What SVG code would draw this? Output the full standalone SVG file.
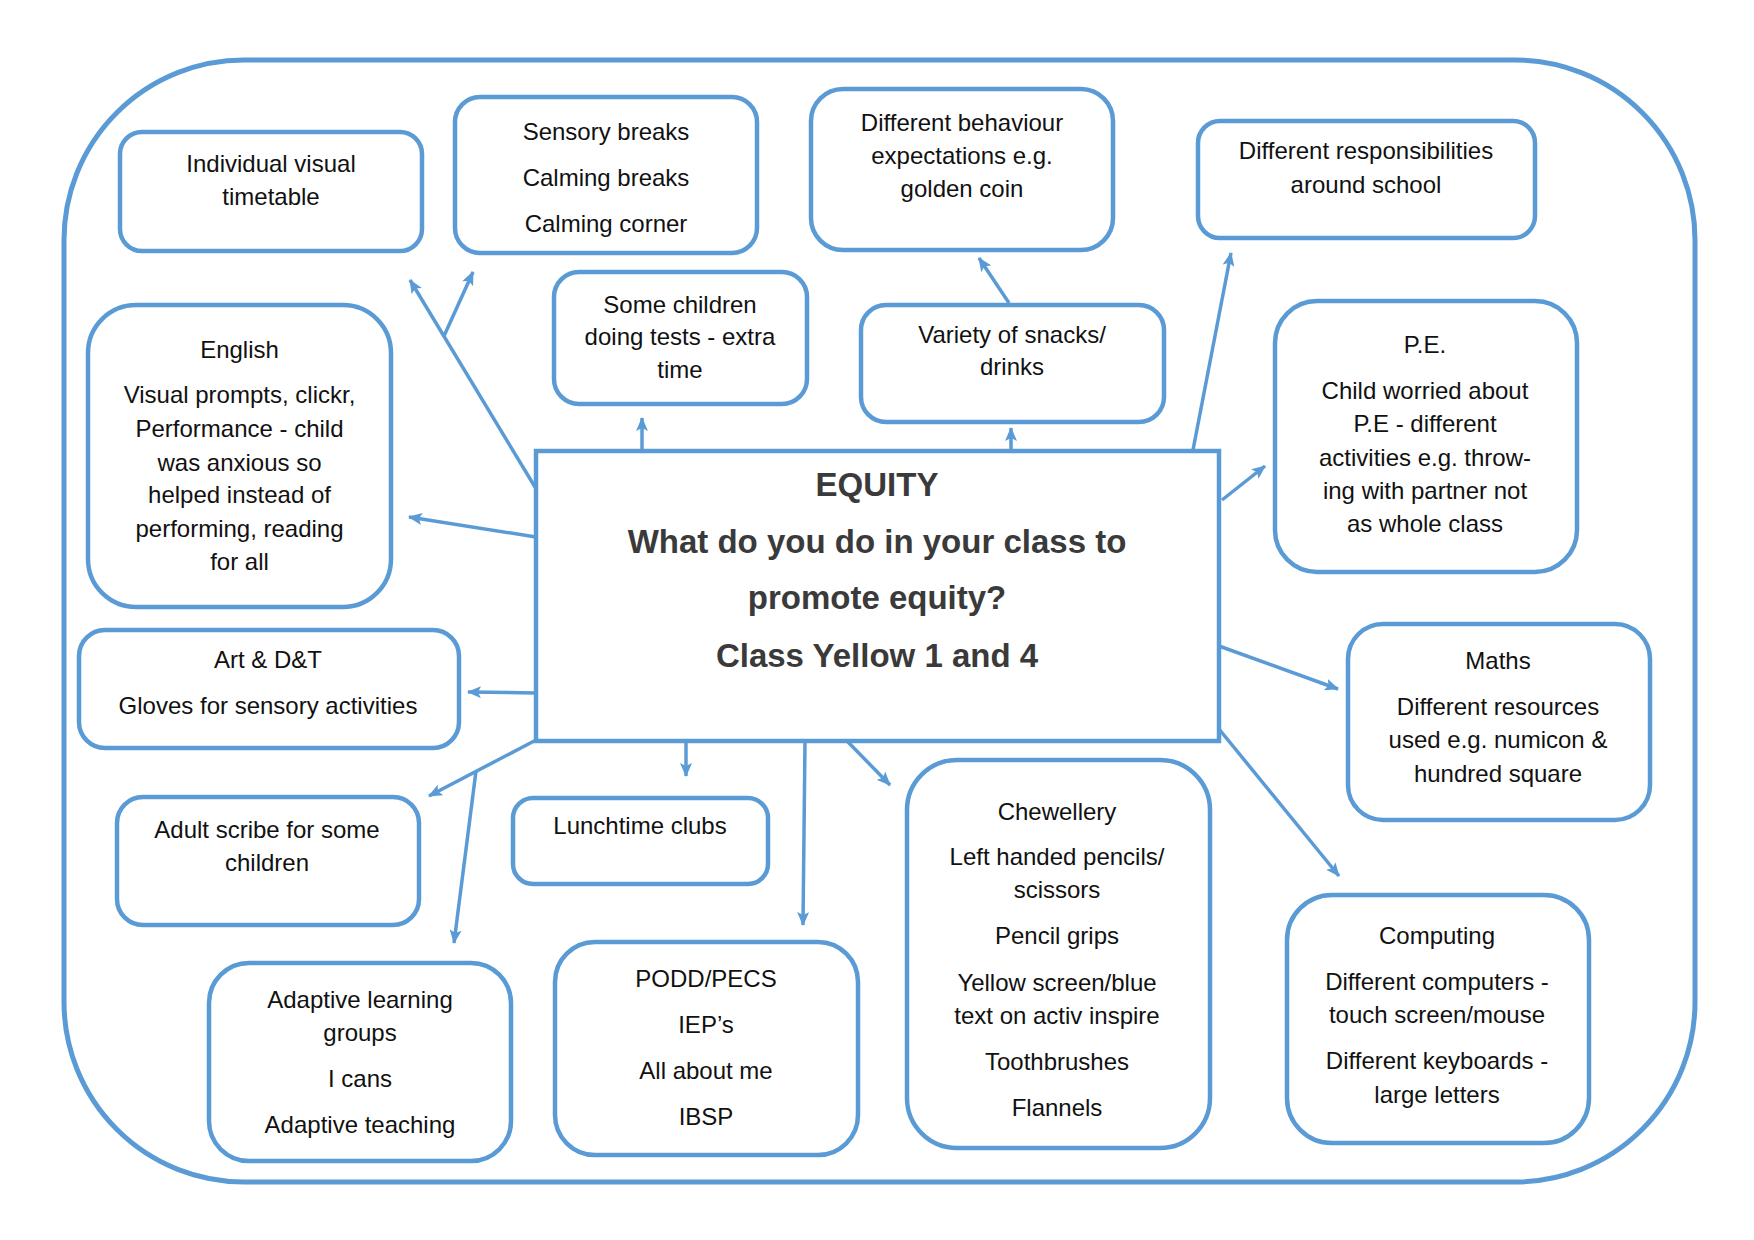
<svg xmlns="http://www.w3.org/2000/svg" width="1754" height="1240" viewBox="0 0 1754 1240">
<style>
.box{fill:#fff;stroke:#5b9bd5;stroke-width:4.5}
.outer{fill:#fff;stroke:#5b9bd5;stroke-width:5}
.t{font-family:"Liberation Sans",Arial,sans-serif;font-size:24px;fill:#111;text-anchor:middle}
.h{font-family:"Liberation Sans",Arial,sans-serif;font-weight:bold;font-size:33px;fill:#3a3a3a;text-anchor:middle}
.c{fill:none;stroke:#5b9bd5;stroke-width:3.5;marker-end:url(#ah)}
.cn{fill:none;stroke:#5b9bd5;stroke-width:3.5}
</style>
<defs>
<marker id="ah" markerUnits="userSpaceOnUse" viewBox="0 0 14 12" refX="13" refY="6" markerWidth="14" markerHeight="12" orient="auto">
<path d="M0,0 L14,6 L0,12 L3,6 z" fill="#5b9bd5"/>
</marker>
</defs>
<rect width="1754" height="1240" fill="#fff"/>
<rect class="outer" x="64" y="60" width="1631" height="1122" rx="180" ry="180"/>

<g id="connectors">
<line class="c" x1="535" y1="487" x2="410" y2="280"/>
<line class="c" x1="444" y1="336" x2="473" y2="272"/>
<line class="c" x1="642" y1="451" x2="642" y2="418"/>
<line class="c" x1="1011" y1="451" x2="1011" y2="428"/>
<line class="c" x1="1009" y1="303" x2="979" y2="258"/>
<line class="c" x1="1193" y1="450" x2="1231" y2="253"/>
<line class="c" x1="1222" y1="500" x2="1265" y2="466"/>
<line class="c" x1="1219" y1="646" x2="1338" y2="689"/>
<line class="c" x1="1219" y1="729" x2="1339" y2="876"/>
<line class="c" x1="536" y1="537" x2="409" y2="517"/>
<line class="c" x1="536" y1="693" x2="468" y2="692"/>
<line class="c" x1="536" y1="740" x2="429" y2="796"/>
<line class="c" x1="476" y1="771" x2="454" y2="943"/>
<line class="c" x1="686" y1="741" x2="686" y2="776"/>
<line class="c" x1="805" y1="741" x2="803" y2="925"/>
<line class="c" x1="847" y1="741" x2="890" y2="785"/>
</g>

<g id="center">
<rect x="536" y="451" width="683" height="290" fill="#fff" stroke="#5b9bd5" stroke-width="4.5"/>
<text class="h" x="877" y="496" font-size="35">EQUITY</text>
<text class="h" x="877" y="553">What do you do in your class to</text>
<text class="h" x="877" y="609">promote equity?</text>
<text class="h" x="877" y="667">Class Yellow 1 and 4</text>
</g>

<g id="n-timetable">
<rect class="box" x="120" y="132" width="302" height="119" rx="22"/>
<text class="t" x="271" y="172">Individual visual</text>
<text class="t" x="271" y="205">timetable</text>
</g>

<g id="n-sensory">
<rect class="box" x="455" y="97" width="302" height="156" rx="25"/>
<text class="t" x="606" y="140">Sensory breaks</text>
<text class="t" x="606" y="186">Calming breaks</text>
<text class="t" x="606" y="232">Calming corner</text>
</g>

<g id="n-behaviour">
<rect class="box" x="811" y="89" width="302" height="161" rx="32"/>
<text class="t" x="962" y="131">Different behaviour</text>
<text class="t" x="962" y="164">expectations e.g.</text>
<text class="t" x="962" y="197">golden coin</text>
</g>

<g id="n-responsibilities">
<rect class="box" x="1198" y="121" width="337" height="117" rx="22"/>
<text class="t" x="1366" y="159">Different responsibilities</text>
<text class="t" x="1366" y="193">around school</text>
</g>

<g id="n-tests">
<rect class="box" x="554" y="272" width="253" height="132" rx="25"/>
<text class="t" x="680" y="313">Some children</text>
<text class="t" x="680" y="345">doing tests - extra</text>
<text class="t" x="680" y="378">time</text>
</g>

<g id="n-snacks">
<rect class="box" x="861" y="305" width="303" height="117" rx="25"/>
<text class="t" x="1012" y="343">Variety of snacks/</text>
<text class="t" x="1012" y="375">drinks</text>
</g>

<g id="n-english">
<rect class="box" x="88" y="305" width="303" height="302" rx="48"/>
<text class="t" x="239.5" y="358">English</text>
<text class="t" x="239.5" y="403">Visual prompts, clickr,</text>
<text class="t" x="239.5" y="437">Performance - child</text>
<text class="t" x="239.5" y="471">was anxious so</text>
<text class="t" x="239.5" y="503">helped instead of</text>
<text class="t" x="239.5" y="537">performing, reading</text>
<text class="t" x="239.5" y="570">for all</text>
</g>

<g id="n-pe">
<rect class="box" x="1275" y="301" width="302" height="271" rx="42"/>
<text class="t" x="1425" y="353">P.E.</text>
<text class="t" x="1425" y="399">Child worried about</text>
<text class="t" x="1425" y="432">P.E - different</text>
<text class="t" x="1425" y="466">activities e.g. throw-</text>
<text class="t" x="1425" y="499">ing with partner not</text>
<text class="t" x="1425" y="532">as whole class</text>
</g>

<g id="n-art">
<rect class="box" x="79" y="630" width="380" height="118" rx="26"/>
<text class="t" x="268" y="668">Art &amp; D&amp;T</text>
<text class="t" x="268" y="714">Gloves for sensory activities</text>
</g>

<g id="n-maths">
<rect class="box" x="1348" y="624" width="302" height="196" rx="35"/>
<text class="t" x="1498" y="669">Maths</text>
<text class="t" x="1498" y="715">Different resources</text>
<text class="t" x="1498" y="748">used e.g. numicon &amp;</text>
<text class="t" x="1498" y="782">hundred square</text>
</g>

<g id="n-scribe">
<rect class="box" x="117" y="797" width="302" height="128" rx="26"/>
<text class="t" x="267" y="838">Adult scribe for some</text>
<text class="t" x="267" y="871">children</text>
</g>

<g id="n-lunch">
<rect class="box" x="513" y="798" width="255" height="86" rx="20"/>
<text class="t" x="640" y="834">Lunchtime clubs</text>
</g>

<g id="n-adaptive">
<rect class="box" x="209" y="963" width="302" height="198" rx="40"/>
<text class="t" x="360" y="1008">Adaptive learning</text>
<text class="t" x="360" y="1041">groups</text>
<text class="t" x="360" y="1087">I cans</text>
<text class="t" x="360" y="1133">Adaptive teaching</text>
</g>

<g id="n-podd">
<rect class="box" x="555" y="942" width="303" height="213" rx="40"/>
<text class="t" x="706" y="987">PODD/PECS</text>
<text class="t" x="706" y="1033">IEP’s</text>
<text class="t" x="706" y="1079">All about me</text>
<text class="t" x="706" y="1125">IBSP</text>
</g>

<g id="n-chewellery">
<rect class="box" x="907" y="760" width="303" height="388" rx="50"/>
<text class="t" x="1057" y="820">Chewellery</text>
<text class="t" x="1057" y="865">Left handed pencils/</text>
<text class="t" x="1057" y="898">scissors</text>
<text class="t" x="1057" y="944">Pencil grips</text>
<text class="t" x="1057" y="991">Yellow screen/blue</text>
<text class="t" x="1057" y="1024">text on activ inspire</text>
<text class="t" x="1057" y="1070">Toothbrushes</text>
<text class="t" x="1057" y="1116">Flannels</text>
</g>

<g id="n-computing">
<rect class="box" x="1287" y="895" width="302" height="248" rx="45"/>
<text class="t" x="1437" y="944">Computing</text>
<text class="t" x="1437" y="990">Different computers -</text>
<text class="t" x="1437" y="1023">touch screen/mouse</text>
<text class="t" x="1437" y="1069">Different keyboards -</text>
<text class="t" x="1437" y="1103">large letters</text>
</g>
</svg>
